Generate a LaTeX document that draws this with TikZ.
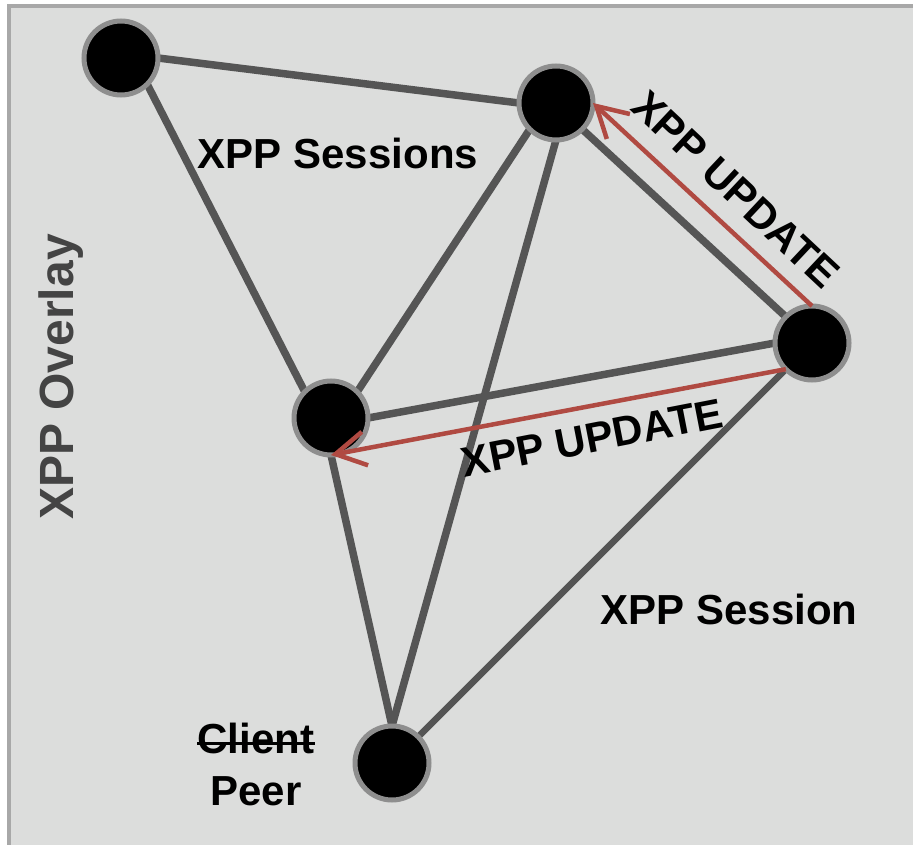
\documentclass[tikz,border=0pt]{standalone}
\usepackage{fontspec}
\setmainfont{Liberation Sans}
\usetikzlibrary{arrows.meta}
\usetikzlibrary{backgrounds}

\definecolor{fond}{HTML}{DCDDDC}
\definecolor{cadre}{HTML}{A8A8A8}
\definecolor{lien}{HTML}{555555}
\definecolor{contour}{HTML}{8E8E8E}
\definecolor{rouge}{HTML}{B04A42}
\definecolor{titre}{HTML}{444444}

\begin{document}
\begin{tikzpicture}[x=1pt,y=-1pt]
% style des noeuds
\tikzstyle{pair} = [circle, fill=black, draw=contour, line width=5pt, minimum size=74pt, inner sep=0pt, outer sep=0pt]
\tikzstyle{legende} = [font=\bfseries\fontsize{42}{50}\selectfont, inner sep=0pt]
% style des liens
\tikzstyle{session} = [draw=lien, line width=7.5pt]
\tikzstyle{maj} = [-{Straight Barb[length=30pt,width=34pt]}, draw=rouge, line width=4.5pt]

\useasboundingbox (0,0) rectangle (913,845);

%% placement des noeuds
\node[pair] (pairGauche) at (121,58) {};
\node[pair] (pairHaut) at (556,103) {};
\node[pair] (pairDroite) at (812,343) {};
\node[pair] (pairCentre) at (331,418) {};
\node[pair] (pairBas) at (392,763) {};
%
\node[legende] (sessions) at (338,153) {XPP Sessions};
\node[legende, rotate=-43.2] (majHaut) at (736,190) {XPP UPDATE};
\node[legende, rotate=11] (majCentre) at (592,438) {XPP UPDATE};
\node[legende] (sessionBas) at (729,609) {XPP Session};
\node[legende, anchor=base] (client) at (256,753) {Client};
\node[legende, anchor=base] (peer) at (256,805) {Peer};
\node[legende, font=\bfseries\fontsize{48}{56}\selectfont, text=titre, rotate=90] (overlay) at (61,377) {XPP Overlay};
% texte barre
\draw[line width=3pt] ([yshift=10pt]client.base west) -- ([yshift=10pt]client.base east);

%% placement des liens
\begin{scope}[on background layer]
\fill[fond] (9,6) rectangle (913,845);
\draw[cadre, line width=4pt] (9,845) -- (9,6) -- (913,6);
\draw[session] (pairGauche.east) -- (pairHaut.west);
\draw[session] (pairGauche.south east) -- (pairCentre.north west);
\draw[session] (pairHaut.south west) -- (pairCentre.north east);
\draw[session] (pairHaut.south) -- (pairBas.north);
\draw[session] (pairHaut.south east) -- (pairDroite.north west);
\draw[session] (pairCentre.east) -- (pairDroite.west);
\draw[session] (pairCentre.south) -- (pairBas.north);
\draw[session, line width=6.5pt] (pairDroite.south west) -- (pairBas.north east);
\end{scope}
\draw[maj] (pairDroite.north) -- (pairHaut.east);
\draw[maj] (pairDroite.south west) -- (pairCentre.south);
\end{tikzpicture}
\end{document}
